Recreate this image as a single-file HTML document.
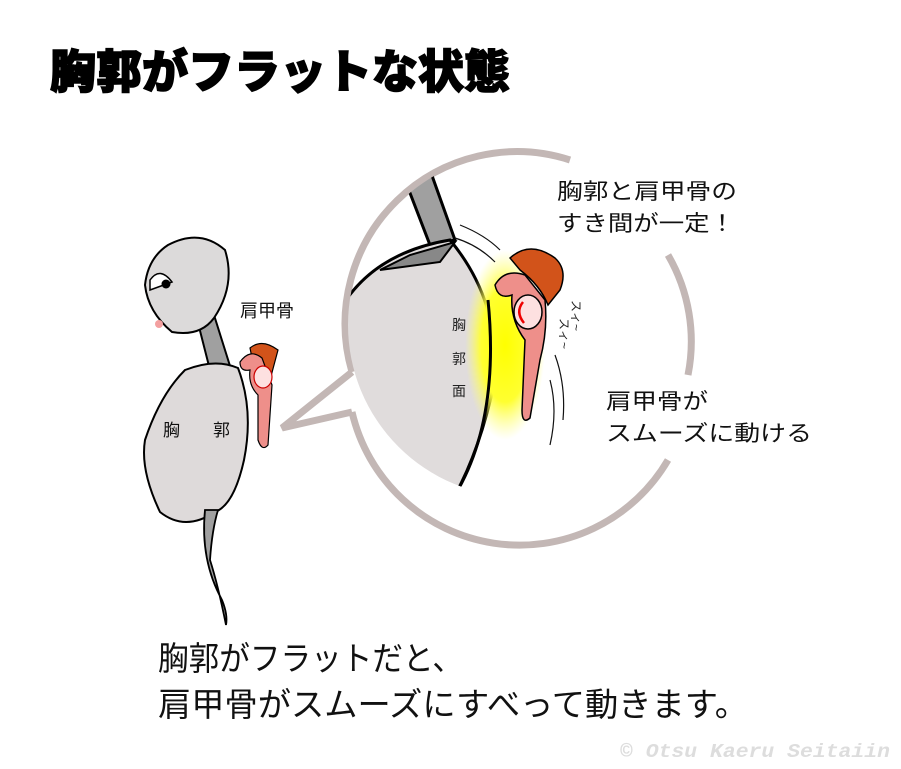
<!DOCTYPE html>
<html><head><meta charset="utf-8"><style>
body{margin:0;background:#fff;width:901px;height:769px;overflow:hidden;font-family:"Liberation Sans","Noto Sans CJK JP",sans-serif}
</style></head><body>
<svg width="901" height="769" viewBox="0 0 901 769" xmlns="http://www.w3.org/2000/svg" style="position:absolute;left:0;top:0">
<defs>
<radialGradient id="y" cx="0.5" cy="0.5" r="0.5"><stop offset="0" stop-color="#ffff00"/><stop offset="0.6" stop-color="#ffff30"/><stop offset="1" stop-color="#ffff80" stop-opacity="0"/></radialGradient>
<clipPath id="cc"><circle cx="520" cy="325" r="172"/></clipPath>
</defs>
<text x="50" y="88" font-size="46" font-weight="900" font-family="'Noto Sans CJK JP',sans-serif" fill="#000" stroke="#000" stroke-width="1.5" textLength="460" lengthAdjust="spacingAndGlyphs">胸郭がフラットな状態</text>
<path d="M352,372 L282,428 L352,412" fill="none" stroke="#c3b7b5" stroke-width="7"/>
<g fill="none" stroke="#c3b7b5" stroke-width="7">
<path d="M352,372 A172,172 0 0 1 570,160"/>
<path d="M668,255 A172,172 0 0 1 688,375"/>
<path d="M668,460 A172,172 0 0 1 352,412"/>
</g>
<g clip-path="url(#cc)">
<path d="M405,180 L430,245 L455,240 L430,170 Z" fill="#a0a0a0" stroke="#000" stroke-width="3"/>
<path d="M330,330 Q360,255 450,240 Q500,300 495,380 Q480,450 455,495 L330,495 Z" fill="#e0dcdc" stroke="#000" stroke-width="3"/>
<path d="M380,270 L410,255 L455,242 L440,262 Z" fill="#888" stroke="#000" stroke-width="2"/>
<ellipse cx="505" cy="345" rx="40" ry="95" fill="url(#y)"/>
<path d="M455,495 Q500,420 488,300" fill="none" stroke="#000" stroke-width="3"/>
</g>
<text font-size="14" fill="#222"><tspan x="452" y="330">胸</tspan><tspan x="452" y="364">郭</tspan><tspan x="452" y="396">面</tspan></text>
<path d="M510,258 Q530,240 555,258 Q568,270 560,290 L548,305 Q540,285 520,270 Z" fill="#d2531a" stroke="#000" stroke-width="1.5"/>
<path d="M495,285 Q505,268 525,275 L545,300 Q548,330 540,360 L530,418 Q522,425 522,410 L525,340 Q510,320 512,295 Q498,300 495,285 Z" fill="#ee8f8a" stroke="#000" stroke-width="1.5"/>
<ellipse cx="528" cy="312" rx="14" ry="17" fill="#fde0e0" stroke="#000" stroke-width="1.5"/>
<path d="M523,302 Q515,312 524,323" fill="none" stroke="#e00" stroke-width="2.5"/>
<g fill="none" stroke="#111" stroke-width="1.2">
<path d="M460,225 Q485,235 500,250"/><path d="M455,238 Q478,245 495,262"/>
<path d="M555,355 Q566,385 563,420"/><path d="M550,380 Q558,410 550,445"/>
</g>
<text font-size="12" fill="#222" transform="translate(572,300) rotate(90)">スィ~</text>
<text font-size="12" fill="#222" transform="translate(560,318) rotate(90)">スィ~</text>
<text font-size="22" fill="#111" x="557" y="199" textLength="180" lengthAdjust="spacingAndGlyphs">胸郭と肩甲骨の</text>
<text font-size="22" fill="#111" x="557" y="231" textLength="178" lengthAdjust="spacingAndGlyphs">すき間が一定！</text>
<text font-size="22" fill="#111" x="606" y="409" textLength="102" lengthAdjust="spacingAndGlyphs">肩甲骨が</text>
<text font-size="22" fill="#111" x="606" y="441" textLength="206" lengthAdjust="spacingAndGlyphs">スムーズに動ける</text>
<path d="M196,315 L210,370 L230,366 L214,315 Z" fill="#a0a0a0" stroke="#000" stroke-width="2"/>
<path d="M168,245 Q200,228 225,250 Q236,285 214,318 Q200,337 172,332 Q148,312 145,285 Q148,258 168,245 Z" fill="#dcdada" stroke="#000" stroke-width="2"/>
<path d="M150,280 Q160,266 172,282 L150,290 Z" fill="#fff" stroke="#000" stroke-width="1.5"/>
<circle cx="166" cy="284" r="4.5" fill="#000"/>
<circle cx="159" cy="324" r="4" fill="#f3a0a0"/>
<path d="M185,370 Q215,358 238,368 Q254,410 244,460 Q234,505 215,512 Q185,532 160,512 Q140,470 145,440 Q160,395 185,370 Z" fill="#dedada" stroke="#000" stroke-width="2"/>
<path d="M205,510 Q200,560 222,600 Q228,615 226,625 Q218,585 210,560 Q212,530 218,510 Z" fill="#a0a0a0" stroke="#000" stroke-width="1.8"/>
<path d="M250,348 Q262,338 278,350 L270,380 Q262,362 252,358 Z" fill="#d2531a" stroke="#000" stroke-width="1.2"/>
<path d="M240,362 Q250,348 262,358 L272,385 L268,445 Q262,452 258,440 L258,395 Q248,385 250,370 Q240,372 240,362 Z" fill="#ee8f8a" stroke="#000" stroke-width="1.2"/>
<ellipse cx="263" cy="377" rx="9" ry="11" fill="#fde0e0" stroke="#c00" stroke-width="1.2"/>
<text font-size="17" fill="#111" x="163" y="436">胸</text><text font-size="17" fill="#111" x="213" y="436">郭</text>
<text font-size="18" fill="#111" x="240" y="317">肩甲骨</text>
<text font-size="33" fill="#111" x="158" y="670" textLength="305" lengthAdjust="spacingAndGlyphs">胸郭がフラットだと、</text>
<text font-size="33" fill="#111" x="158" y="716" textLength="590" lengthAdjust="spacingAndGlyphs">肩甲骨がスムーズにすべって動きます。</text>
<text x="620" y="757" font-size="19" font-weight="bold" fill="#ddd" font-style="italic" font-family="'Liberation Mono',monospace" textLength="270" lengthAdjust="spacingAndGlyphs">© Otsu Kaeru Seitaiin</text>
</svg>
</body></html>
